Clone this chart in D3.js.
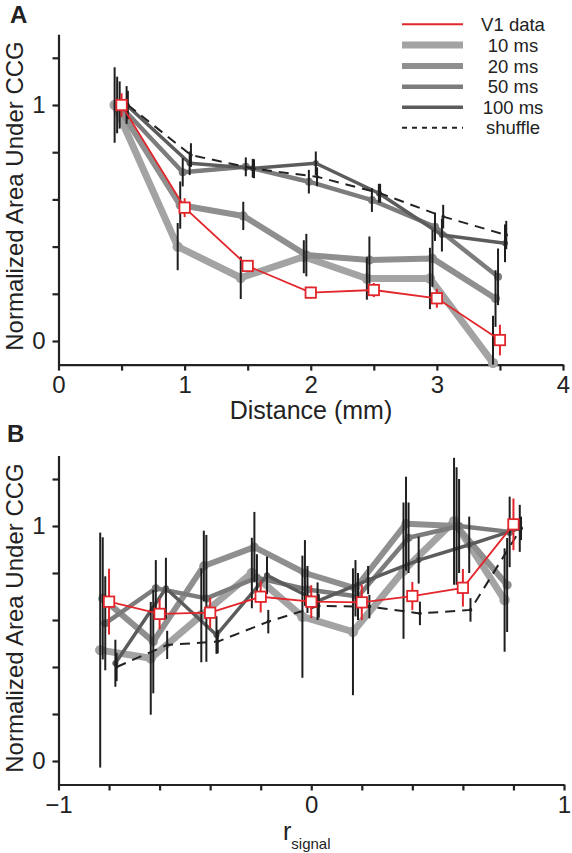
<!DOCTYPE html>
<html><head><meta charset="utf-8">
<script src="https://cdn.jsdelivr.net/npm/d3@7"></script>
<style>
html,body{margin:0;padding:0;background:#fff;}
svg text{font-family:"Liberation Sans",Arial,Helvetica,sans-serif;fill:#222;}
</style></head>
<body>
<svg id="chart" width="572" height="853"></svg>
<script>
// ---------- data ----------
const seriesLabels = ["V1 data", "10 ms", "20 ms", "50 ms", "100 ms", "shuffle"];

// Panel A: distance (mm)
const distanceMm = [0.5, 1, 1.5, 2, 2.5, 3, 3.5];
const distanceTicks = [0, 0.5, 1, 1.5, 2, 2.5, 3, 3.5, 4];
const aV1 = [1.0, 0.565, 0.318, 0.205, 0.216, 0.181, 0.004];
const aV1Err = [0.05, 0.04, 0.025, 0.025, 0.03, 0.04, 0.065];
const a10 = [1.0, 0.40, 0.268, 0.357, 0.265, 0.265, -0.093];
const a10Err = [0.16, 0.10, 0.09, 0.07, 0.09, 0.13, 0.2];
const a20 = [1.0, 0.576, 0.53, 0.364, 0.343, 0.35, 0.18];
const a20Err = [0.12, 0.10, 0.06, 0.09, 0.1, 0.12, 0.12];
const a50 = [1.0, 0.715, 0.738, 0.675, 0.597, 0.484, 0.272];
const a50Err = [0.1, 0.06, 0.04, 0.05, 0.05, 0.06, 0.12];
const a100 = [1.0, 0.753, 0.732, 0.753, 0.626, 0.449, 0.414];
const a100Err = [0.08, 0.05, 0.04, 0.05, 0.04, 0.07, 0.08];
const aShuf = [1.0, 0.788, 0.73, 0.696, 0.626, 0.527, 0.449];
const aShufErr = [0.06, 0.05, 0.04, 0.04, 0.04, 0.05, 0.06];
const jitterA = [0, -0.055, -0.035, -0.015, 0.04, 0.05];

// Panel B: r_signal
const rSignal = [-0.8, -0.6, -0.4, -0.2, 0, 0.2, 0.4, 0.6, 0.8];
const rTicks = [-1, -0.8, -0.6, -0.4, -0.2, 0, 0.2, 0.4, 0.6, 0.8, 1];
const bV1 = [0.678, 0.626, 0.631, 0.699, 0.678, 0.675, 0.702, 0.737, 1.007];
const bV1Err = [0.14, 0.065, 0.065, 0.067, 0.07, 0.075, 0.06, 0.08, 0.11];
const b10 = [0.472, 0.437, 0.62, 0.80, 0.614, 0.55, 0.81, 1.02, 0.685];
const b10Err = [0.5, 0.24, 0.2, 0.15, 0.26, 0.27, 0.29, 0.27, 0.22];
const b20 = [0.692, 0.508, 0.83, 0.91, 0.80, 0.735, 1.01, 1.0, 0.749];
const b20Err = [0.26, 0.22, 0.15, 0.15, 0.14, 0.12, 0.2, 0.25, 0.2];
const b50 = [0.586, 0.735, 0.692, 0.78, 0.73, 0.70, 0.95, 1.0, 0.975];
const b50Err = [0.2, 0.12, 0.27, 0.1, 0.1, 0.1, 0.15, 0.2, 0.15];
const b100 = [0.416, 0.735, 0.536, 0.79, 0.68, 0.77, 0.855, 0.92, 0.99];
const b100Err = [0.1, 0.13, 0.08, 0.08, 0.08, 0.06, 0.1, 0.12, 0.1];
const bShuf = [0.40, 0.494, 0.508, 0.593, 0.66, 0.657, 0.628, 0.643, 0.99];
const bShufErr = [0.06, 0.06, 0.05, 0.05, 0.05, 0.05, 0.05, 0.05, 0.05];
const jitterB = [0, -0.035, -0.025, -0.015, 0.025, 0.03];

const yTicks = [0, 0.2, 0.4, 0.6, 0.8, 1.0, 1.2];

// ---------- styles ----------
const styles = [
  {color: "#e2262b", width: 1.8, dash: null, marker: "square", r: 5.2},
  {color: "#a3a3a3", width: 7, dash: null, marker: "circle", r: 5.2},
  {color: "#8f8f8f", width: 6, dash: null, marker: "circle", r: 4.6},
  {color: "#7c7c7c", width: 4.5, dash: null, marker: "circle", r: 4},
  {color: "#5c5c5c", width: 3.5, dash: null, marker: "circle", r: 3},
  {color: "#222222", width: 2, dash: "10,7", marker: "dot", r: 1.8}
];

const svg = d3.select("#chart");

function drawPanel(opts) {
  const {xs, valueSets, errSets, jitter, xScale, yScale, g} = opts;
  const [yLo, yHi] = yScale.domain();
  const clampY = v => Math.max(yLo, Math.min(yHi, v));
  const series = valueSets.map((vals, i) => ({
    i, style: styles[i],
    pts: vals.map((v, k) => ({x: xs[k] + jitter[i], y: v, e: errSets[i][k]}))
  }));
  const line = d3.line().x(d => xScale(d.x)).y(d => yScale(d.y));
  [1, 2, 3, 4].forEach(i => {
    const s = series[i];
    g.append("path").datum(s.pts).attr("d", line)
      .attr("fill", "none").attr("stroke", s.style.color)
      .attr("stroke-width", s.style.width).attr("stroke-linejoin", "round");
    g.selectAll(null).data(s.pts).enter().append("circle")
      .attr("cx", d => xScale(d.x)).attr("cy", d => yScale(d.y))
      .attr("r", s.style.r).attr("fill", s.style.color);
  });
  const sh = series[5];
  g.append("path").datum(sh.pts).attr("d", line)
    .attr("fill", "none").attr("stroke", sh.style.color)
    .attr("stroke-width", sh.style.width).attr("stroke-dasharray", sh.style.dash);
  [1, 2, 3, 4, 5].forEach(i => {
    const s = series[i];
    g.selectAll(null).data(s.pts).enter().append("line")
      .attr("x1", d => xScale(d.x)).attr("x2", d => xScale(d.x))
      .attr("y1", d => yScale(clampY(d.y - d.e))).attr("y2", d => yScale(clampY(d.y + d.e)))
      .attr("stroke", "#1e1e1e").attr("stroke-width", 2);
  });
  g.selectAll(null).data(sh.pts).enter().append("circle")
    .attr("cx", d => xScale(d.x)).attr("cy", d => yScale(d.y))
    .attr("r", sh.style.r).attr("fill", sh.style.color);
  const v = series[0];
  g.selectAll(null).data(v.pts).enter().append("line")
    .attr("x1", d => xScale(d.x)).attr("x2", d => xScale(d.x))
    .attr("y1", d => yScale(clampY(d.y - d.e))).attr("y2", d => yScale(clampY(d.y + d.e)))
    .attr("stroke", v.style.color).attr("stroke-width", 2);
  g.append("path").datum(v.pts).attr("d", line)
    .attr("fill", "none").attr("stroke", v.style.color).attr("stroke-width", v.style.width);
  g.selectAll(null).data(v.pts).enter().append("rect")
    .attr("x", d => xScale(d.x) - v.style.r).attr("y", d => yScale(d.y) - v.style.r)
    .attr("width", v.style.r * 2).attr("height", v.style.r * 2)
    .attr("fill", "#fff").attr("stroke", v.style.color).attr("stroke-width", 1.8);
}

function drawAxes(g, xScale, yScale, xTickVals, xFmt, yBottom) {
  const xa = d3.axisBottom(xScale).tickValues(xTickVals).tickFormat(xFmt)
    .tickSize(6).tickSizeOuter(0).tickPadding(5);
  const xg = g.append("g").attr("transform", `translate(0,${yBottom})`).call(xa);
  const ya = d3.axisLeft(yScale).tickValues(yTicks)
    .tickFormat(d => (Math.abs(d) < 1e-9 ? "0" : Math.abs(d - 1) < 1e-9 ? "1" : ""))
    .tickSize(6).tickSizeOuter(0).tickPadding(7);
  const yg = g.append("g").attr("transform", `translate(${xScale.range()[0]},0)`).call(ya);
  [xg, yg].forEach(a => {
    a.select(".domain").attr("stroke", "#222").attr("stroke-width", 2.2);
    a.selectAll(".tick line").attr("stroke", "#222").attr("stroke-width", 2.2);
    a.selectAll(".tick text").attr("font-size", 24).attr("fill", "#222")
      .attr("font-family", "'Liberation Sans',Arial,sans-serif");
  });
}

// ---------- Panel A ----------
const xA = d3.scaleLinear().domain([0, 4]).range([58.5, 563]);
const yA = d3.scaleLinear().domain([-0.1, 1.3]).range([364.6, 34.2]);
const gA = svg.append("g");
drawAxes(gA, xA, yA, distanceTicks, d => (Number.isInteger(d) ? String(d) : ""), 364.6);
drawPanel({xs: distanceMm, valueSets: [aV1, a10, a20, a50, a100, aShuf],
  errSets: [aV1Err, a10Err, a20Err, a50Err, a100Err, aShufErr],
  jitter: jitterA, xScale: xA, yScale: yA, g: gA});

// ---------- Panel B ----------
const xB = d3.scaleLinear().domain([-1, 1]).range([58.5, 564]);
const yB = d3.scaleLinear().domain([-0.1, 1.3]).range([784.5, 455.5]);
const gB = svg.append("g");
drawAxes(gB, xB, yB, rTicks,
  d => (Math.abs(d + 1) < 1e-9 ? "\u22121" : Math.abs(d) < 1e-9 ? "0" : Math.abs(d - 1) < 1e-9 ? "1" : ""),
  784.5);
drawPanel({xs: rSignal, valueSets: [bV1, b10, b20, b50, b100, bShuf],
  errSets: [bV1Err, b10Err, b20Err, b50Err, b100Err, bShufErr],
  jitter: jitterB, xScale: xB, yScale: yB, g: gB});

// ---------- labels ----------
svg.append("text").attr("x", 10).attr("y", 23).attr("font-size", 24).attr("font-weight", "bold").text("A");
svg.append("text").attr("x", 7).attr("y", 442).attr("font-size", 24).attr("font-weight", "bold").text("B");

svg.append("text").attr("transform", "translate(23,196) rotate(-90)")
  .attr("text-anchor", "middle").attr("font-size", 24).text("Normalized Area Under CCG");
svg.append("text").attr("transform", "translate(23,618) rotate(-90)")
  .attr("text-anchor", "middle").attr("font-size", 24).text("Normalized Area Under CCG");

svg.append("text").attr("x", 311).attr("y", 419).attr("text-anchor", "middle")
  .attr("font-size", 25).text("Distance (mm)");

const rl = svg.append("text").attr("x", 283).attr("y", 840).attr("font-size", 25);
rl.append("tspan").text("r");
rl.append("tspan").attr("font-size", 15).attr("dy", 9).text("signal");

// ---------- legend ----------
const legY = [24.3, 45, 66, 86.7, 107.3, 127.7];
const leg = svg.append("g");
seriesLabels.forEach((lab, i) => {
  const st = styles[i];
  leg.append("line").attr("x1", 402).attr("x2", 463).attr("y1", legY[i]).attr("y2", legY[i])
    .attr("stroke", st.color).attr("stroke-width", i === 0 ? 2 : st.width)
    .attr("stroke-dasharray", st.dash ? "5,5" : null);
  leg.append("text").attr("x", 513).attr("y", legY[i] + 6.5).attr("text-anchor", "middle")
    .attr("font-size", 18.5).text(lab);
});
</script>
</body></html>
